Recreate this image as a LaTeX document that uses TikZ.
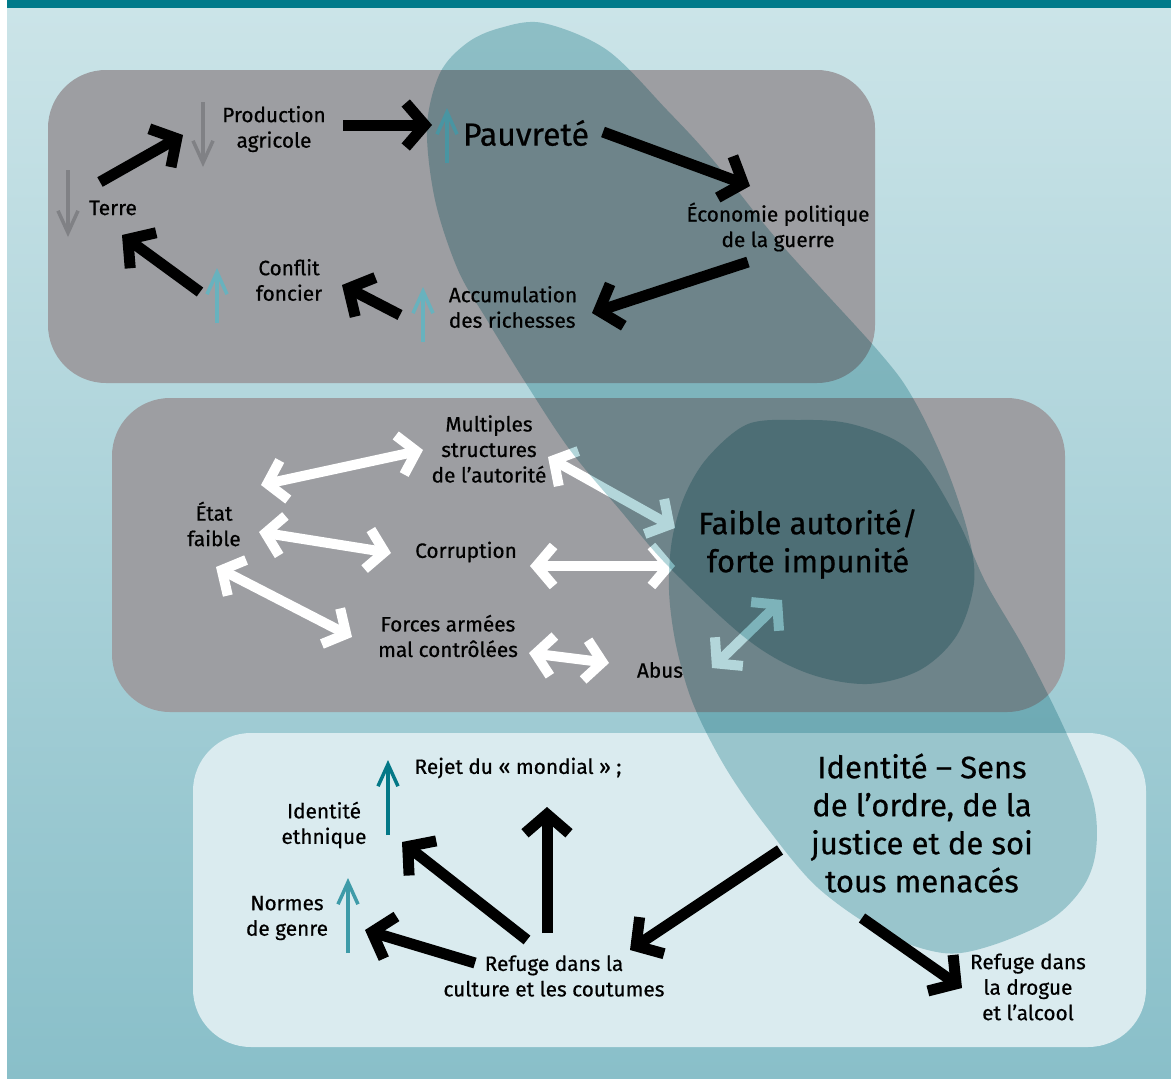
\documentclass[tikz,border=0pt]{standalone}
\usepackage{fontspec}
\setmainfont{Fira Sans}[FakeBold=0.6]
\usetikzlibrary{arrows.meta}
\definecolor{bandcol}{RGB}{0,122,138}
\definecolor{bgtop}{RGB}{203,228,232}
\definecolor{bgbot}{RGB}{137,191,201}
\definecolor{boxgray}{RGB}{157,158,162}
\definecolor{boxlight}{RGB}{218,235,239}
\definecolor{blobcol}{RGB}{179,214,218}
\definecolor{grayind}{RGB}{128,129,133}
\definecolor{tealind}{RGB}{104,178,190}
\definecolor{darkteal}{RGB}{3,120,135}
\definecolor{midteal}{RGB}{62,155,168}
\tikzset{
  txt/.style={font=\fontsize{20.8}{25.5}\selectfont, align=center, inner sep=0pt},
  bigtxt/.style={font=\fontsize{31}{38}\selectfont, align=center, inner sep=0pt},
  blackarrow/.style={line width=11pt, -{Straight Barb[length=19pt,width=44pt,line width=11pt]}},
  whitearrow/.style={white, line width=10pt,
    {Straight Barb[length=17pt,width=40pt,line width=10pt]}-{Straight Barb[length=17pt,width=40pt,line width=10pt]}},
  indarrow/.style={line width=3.5pt, -{Straight Barb[length=22pt,width=20pt,line width=3.5pt]}},
  roundbox/.style={rounded corners=58pt},
}

\begin{document}
\begin{tikzpicture}[x=1pt,y=-1pt]
\useasboundingbox (0,0) rectangle (1171,1079);
\fill[white] (0,0) rectangle (1171,1079);
\fill[top color=bgtop, bottom color=bgbot] (7,8) rectangle (1171,1079);
\fill[bandcol] (7,0) rectangle (1171,8);

% the three panels
\fill[boxgray, roundbox] (48,70) rectangle (875,383);
\fill[boxgray, roundbox] (112,398) rectangle (1065,712);
\fill[boxlight, roundbox] (193,733) rectangle (1146,1047);

% top panel
\node[txt] (prod) at (274,129) {Production\\agricole};
\node[txt] (terre) at (113,208) {Terre};
\node[bigtxt, font=\fontsize{32}{38}\selectfont] (pauv) at (526,133) {Pauvreté};
\node[txt] (econ) at (778,227) {Économie politique\\de la guerre};
\node[txt, align=left] (accum) at (513,307) {Accumulation\\des richesses};
\node[txt] (conflit) at (289,280) {Conflit\\foncier};

% middle panel
\node[txt] (multi) at (489,449) {Multiples\\structures\\de l’autorité};
\node[txt] (etat) at (214,524) {État\\faible};
\node[txt] (corrup) at (466,552) {Corruption};
\node[txt] (forces) at (448,636) {Forces armées\\mal contrôlées};
\node[txt] (abus) at (660,670) {Abus};
\node[bigtxt] (faible) at (808,544) {Faible autorité/\\forte impunité};

% bottom panel
\node[txt] (rejet) at (518,768) {Rejet du «~mondial~» ;};
\node[txt] (ethn) at (324,825) {Identité\\ethnique};
\node[txt] (normes) at (287,918) {Normes\\de genre};
\node[txt] (refcult) at (554,976) {Refuge dans la\\culture et les coutumes};
\node[bigtxt] (ident) at (922,823) {Identité – Sens\\de l’ordre, de la\\justice et de soi\\tous menacés};
\node[txt] (refdrog) at (1028,987) {Refuge dans\\la drogue\\et l’alcool};

% up / down markers
\draw[indarrow, grayind] ([shift={(-71,-27)}]prod.center) -- ++(0,65);
\draw[indarrow, grayind] ([shift={(-45,-38)}]terre.center) -- ++(0,67);
\draw[indarrow, tealind] ([shift={(-79,30)}]pauv.center) -- ++(0,-55);
\draw[indarrow, tealind] ([shift={(-72,43)}]conflit.center) -- ++(0,-55);
\draw[indarrow, tealind] ([shift={(-90,35)}]accum.center) -- ++(0,-55);
\draw[indarrow, darkteal] ([shift={(64,10)}]ethn.center) -- ++(0,-75);
\draw[indarrow, midteal] ([shift={(61,35)}]normes.center) -- ++(0,-75);

% cycle of the top panel
\draw[blackarrow] ([shift={(-13,-26)}]terre.center) -- ([shift={(-91,6)}]prod.center);
\draw[blackarrow] ([shift={(69,-4)}]prod.center) -- ([shift={(-94,-8)}]pauv.center);
\draw[blackarrow] ([shift={(77,-1)}]pauv.center) -- ([shift={(-28,-41)}]econ.center);
\draw[blackarrow] ([shift={(-30,35)}]econ.center) -- ([shift={(79,6)}]accum.center);
\draw[blackarrow] ([shift={(-113,8)}]accum.center) -- ([shift={(53,5)}]conflit.center);
\draw[blackarrow] ([shift={(-89,12)}]conflit.center) -- ([shift={(9,27)}]terre.center);

% middle panel links
\draw[whitearrow] ([shift={(47,-39)}]etat.center) -- ([shift={(-66,1)}]multi.center);
\draw[whitearrow] ([shift={(45,8)}]etat.center) -- ([shift={(-75,1)}]corrup.center);
\draw[whitearrow] ([shift={(2,43)}]etat.center) -- ([shift={(-96,1)}]forces.center);
\draw[whitearrow] ([shift={(81,17)}]forces.center) -- ([shift={(-51,-7)}]abus.center);
\draw[whitearrow] ([shift={(64,14)}]corrup.center) -- ([shift={(-133,22)}]faible.center);
\draw[whitearrow] ([shift={(59,8)}]multi.center) -- ([shift={(-133,-16)}]faible.center);
\draw[whitearrow] ([shift={(52,-2)}]abus.center) -- ([shift={(-26,56)}]faible.center);

% bottom panel links
\draw[blackarrow] ([shift={(-142,27)}]ident.center) -- ([shift={(76,-26)}]refcult.center);
\draw[blackarrow] ([shift={(-60,95)}]ident.center) -- ([shift={(-66,1)}]refdrog.center);
\draw[blackarrow] ([shift={(-79,-13)}]refcult.center) -- ([shift={(78,12)}]normes.center);
\draw[blackarrow] ([shift={(-27,-36)}]refcult.center) -- ([shift={(78,17)}]ethn.center);
\draw[blackarrow] ([shift={(-7,-43)}]refcult.center) -- ([shift={(29,39)}]rejet.center);

% overlapping blobs
\begin{scope}[blend mode=multiply]
\fill[blobcol] plot[smooth cycle, tension=0.55] coordinates {
  (543,23) (607,50) (667,110) (713,160) (780,243) (880,353) (914,400)
  (946,467) (968,533) (974,583) (957,635) (920,670) (867,684) (807,673)
  (748,640) (669,567) (620,510) (570,450) (527,385) (487,320) (458,270)
  (435,200) (427,127) (440,73) (467,43) (500,28)};
\fill[blobcol] plot[smooth cycle, tension=0.55] coordinates {
  (708,457) (748,424) (800,420) (847,423) (895,440) (926,467) (960,525)
  (986,583) (1025,650) (1065,730) (1093,800) (1096,850) (1083,887)
  (1050,920) (990,946) (943,953) (883,933) (817,887) (765,825) (730,775)
  (705,730) (688,690) (675,640) (669,590) (672,540) (685,495)};
\end{scope}
\end{tikzpicture}
\end{document}
